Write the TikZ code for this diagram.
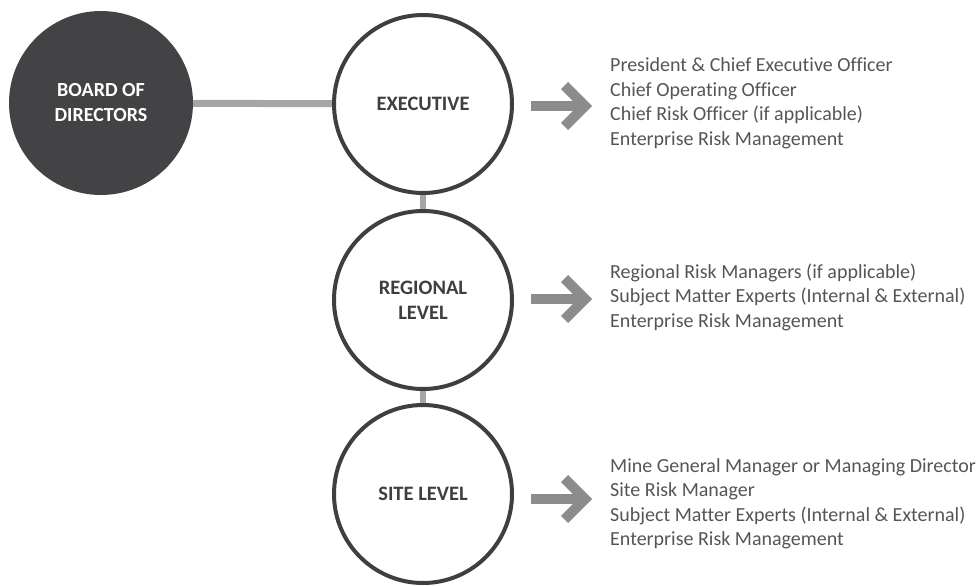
\documentclass[tikz,border=0pt]{standalone}
\usepackage{fontspec}
\setmainfont[Ligatures=NoCommon]{Carlito}
\definecolor{boardfill}{HTML}{434345}
\definecolor{ringcol}{HTML}{3F3F41}
\definecolor{linkcol}{HTML}{A6A6A8}
\definecolor{arrowcol}{HTML}{8C8C8E}
\definecolor{listcol}{HTML}{555557}
\tikzset{
  board/.style={circle, fill=boardfill, minimum size=184pt, inner sep=0pt,
    text=white, font=\bfseries\fontsize{20}{25}\selectfont, align=center},
  level/.style={circle, draw=ringcol, line width=4pt, fill=white, minimum size=178pt,
    inner sep=0pt, text=ringcol, font=\bfseries\fontsize{20.5}{25}\selectfont, align=center},
  hlink/.style={draw=linkcol, line width=7pt},
  vlink/.style={draw=linkcol, line width=6.5pt},
  roles/.style={anchor=west, inner sep=0pt, text=listcol, align=left,
    font=\fontsize{20}{24.5}\selectfont},
  shaft/.style={draw=arrowcol, line width=10pt},
  chevron/.style={draw=arrowcol, line width=10pt, miter limit=4}
}
\begin{document}
\begin{tikzpicture}[x=1pt, y=-1pt]
  \useasboundingbox (0,0) rectangle (980,586);

  % links between levels, drawn first so the rims cover their ends
  \coordinate (boardc) at (101,103);
  \coordinate (execc) at (423,104);
  \coordinate (regc) at (423,300);
  \coordinate (sitec) at (423,494);
  \draw[hlink] (boardc) -- (execc);
  \draw[vlink] (execc) -- (regc);
  \draw[vlink] (regc) -- (sitec);

  % level circles
  \node[board] (board) at (boardc) {BOARD OF\\DIRECTORS};
  \node[level] (exec) at (execc) {EXECUTIVE};
  \node[level] (reg)  at (regc) {REGIONAL\\LEVEL};
  \node[level] (site) at (sitec) {SITE LEVEL};

  % role lists
  \node[roles] (execroles) at (610,103.5) {President \& Chief Executive Officer\\Chief Operating Officer\\Chief Risk Officer (if applicable)\\Enterprise Risk Management};
  \node[roles] (regroles) at (610,297) {Regional Risk Managers (if applicable)\\Subject Matter Experts (Internal \& External)\\Enterprise Risk Management};
  \node[roles] (siteroles) at (610,504) {Mine General Manager or Managing Director\\Site Risk Manager\\Subject Matter Experts (Internal \& External)\\Enterprise Risk Management};

  % block arrows pointing at the role lists
  \foreach \y/\n in {106/a, 299/b, 499/c} {
    \coordinate (tail\n) at (531,\y);
    \coordinate (tip\n) at (585,\y);
    \draw[shaft] (tail\n) -- (tip\n);
    \draw[chevron] ([shift={(-20.5,-20.5)}]tip\n) -- (tip\n) -- ([shift={(-20.5,20.5)}]tip\n);
  }
\end{tikzpicture}
\end{document}
